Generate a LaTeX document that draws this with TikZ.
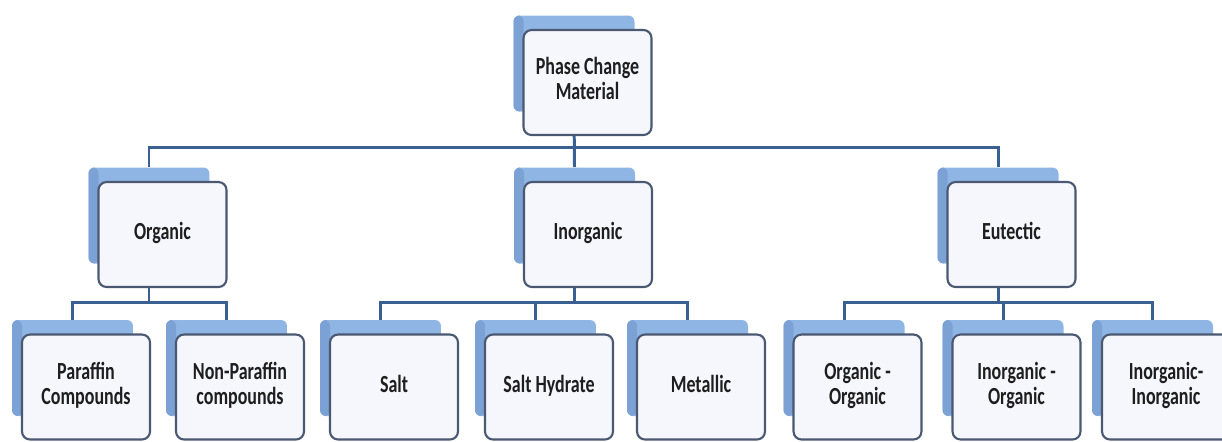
\documentclass[tikz,border=0pt]{standalone}
\usepackage{fontspec}
\newfontfamily\cardfont[FakeStretch=0.73]{Carlito}
\usetikzlibrary{backgrounds}

\definecolor{busblue}{RGB}{58,96,145}
\definecolor{backblue}{RGB}{143,181,228}
\definecolor{backside}{RGB}{124,161,213}
\definecolor{frontline}{RGB}{74,88,114}
\definecolor{frontfill}{RGB}{245,247,252}
\definecolor{cardtext}{RGB}{30,30,30}

\tikzset{
	card/.style={draw=frontline, fill=frontfill, line width=1.2pt, rounded corners=0.16cm,
		minimum width=2.56cm, minimum height=2.1cm, inner sep=0pt, align=center,
		text=cardtext, font=\cardfont\bfseries\fontsize{14}{14.4}\selectfont,
		execute at begin node=\strut, execute at end node=\strut},
	cardback/.style={fill=backblue, rounded corners=0.12cm, minimum width=2.42cm,
		minimum height=1.92cm, inner sep=0pt,
		path picture={\fill[backside] (path picture bounding box.north west) rectangle ([xshift=0.2cm]path picture bounding box.south west);}},
	bus/.style={draw=busblue, line width=1.7pt}
}
% back card sits 13.5 left and 17.5 up from its front card
\newcommand\pcmcard[4]{%
	\node[cardback] (#1-b) at (#2-13.5,#3-17.5) {};
	\node[card] (#1) at (#2,#3+1.5) {#4};}

\begin{document}
\begin{tikzpicture}[x=0.02cm, y=-0.02cm]
		\useasboundingbox (0,0) rectangle (1222,441);
		\clip (0,0) rectangle (1222,441);
		\pcmcard{pcm}{587.5}{81}{Phase Change\\Material}
		% first level
		\pcmcard{org}{162.5}{233}{Organic}
		\pcmcard{inorg}{588}{233}{Inorganic}
		\pcmcard{eut}{1011.5}{233}{Eutectic}
		% second level
		\pcmcard{par}{86}{385.5}{Paraffin\\Compounds}
		\pcmcard{npar}{240}{385.5}{Non-Paraffin\\compounds}
		\pcmcard{salt}{394}{385.5}{Salt}
		\pcmcard{hyd}{549}{385.5}{Salt Hydrate}
		\pcmcard{met}{701}{385.5}{Metallic}
		\pcmcard{oo}{857.5}{385.5}{Organic -\\Organic}
		\pcmcard{io}{1016.5}{385.5}{Inorganic -\\Organic}
		\pcmcard{ii}{1166}{385.5}{Inorganic-\\Inorganic}
		\coordinate (topbus) at (0,147);
		\coordinate (lowbus) at (0,302);
		\begin{scope}[on background layer]
			\draw[bus] (pcm-b.south) -- (inorg-b.north);
			\draw[bus] (org-b.north) -- (org-b.north |- topbus) -- (eut-b.north |- topbus) -- (eut-b.north);
			\draw[bus] (par-b.north) -- (par-b.north |- lowbus) -- (npar-b.north |- lowbus) -- (npar-b.north);
			\draw[bus] (salt-b.north) -- (salt-b.north |- lowbus) -- (met-b.north |- lowbus) -- (met-b.north);
			\draw[bus] (oo-b.north) -- (oo-b.north |- lowbus) -- (ii-b.north |- lowbus) -- (ii-b.north);
			\foreach \p in {org, inorg, eut, hyd, io}
				\draw[bus] (\p-b.center) -- (\p-b.center |- lowbus);
		\end{scope}
\end{tikzpicture}
\end{document}
